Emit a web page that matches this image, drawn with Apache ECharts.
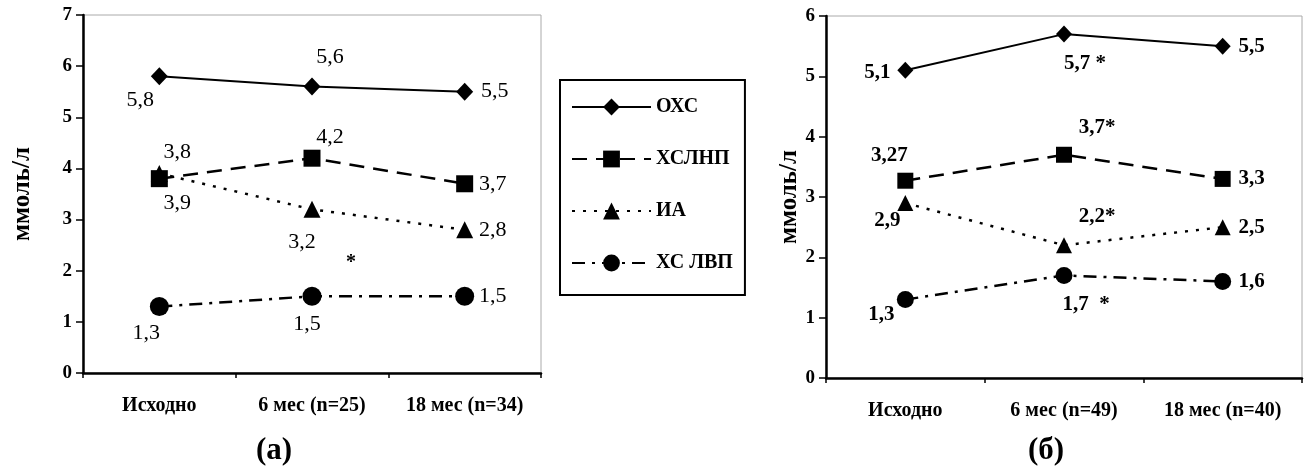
<!DOCTYPE html>
<html>
<head>
<meta charset="utf-8">
<script src="https://cdn.jsdelivr.net/npm/echarts@6/dist/echarts.min.js"></script>
<style>
  html, body { margin: 0; padding: 0; background: #fff; }
  #chart { width: 1308px; height: 471px; }
</style>
</head>
<body>
<div id="chart"></div>
<script>
// Lipid levels (mmol/l) at baseline and follow-up, two patient groups
const categoriesA = ['Исходно', '6 мес (n=25)', '18 мес (n=34)'];
const categoriesB = ['Исходно', '6 мес (n=49)', '18 мес (n=40)'];
const seriesNames = ['ОХС', 'ХСЛНП', 'ИА', 'ХС ЛВП'];

// Panel (а)
const ohsA = [5.8, 5.6, 5.5];
const ldlA = [3.8, 4.2, 3.7];
const iaA = [3.9, 3.2, 2.8];
const hdlA = [1.3, 1.5, 1.5];

// Panel (б)
const ohsB = [5.1, 5.7, 5.5];
const ldlB = [3.27, 3.7, 3.3];
const iaB = [2.9, 2.2, 2.5];
const hdlB = [1.3, 1.7, 1.6];

// Significance marks appended to value labels in panel (б)
const starsB = [['', ' *', ''], ['', '*', ''], ['', '*', ''], ['', '  *', '']];

const yMaxA = 7;
const yMaxB = 6;
const panelTitles = ['(а)', '(б)'];

// Label placement around each point, in pixels from the marker centre
const offsetsA = [
  [[-19, 24], [18, -29], [30, 0]],
  [[18, -26], [18, -21], [28, 0]],
  [[18, 30], [-10, 33], [28, 0]],
  [[-13, 27], [-5, 28], [28, 0]]
];
const offsetsB = [
  [[-28, 2], [21, 29], [29, 0]],
  [[-16, -25], [33, -27], [29, 0]],
  [[-18, 18], [33, -29], [29, 0]],
  [[-24, 15], [22, 29], [29, 0]]
];

const serif = '"Liberation Serif", "DejaVu Serif", serif';

const lineStyles = [
  { type: 'solid', width: 2 },
  { type: [15, 9], width: 2.5 },
  { type: [3, 8], width: 2.5 },
  { type: [13, 7, 3, 7], width: 2.5 }
];
const symbols = ['diamond', 'rect', 'triangle', 'circle'];
const symbolSizesA = [[17, 18], 17, 17, 19];
const symbolSizesB = [[16, 17], 16, 16, 17];

const fmt = v => String(v).replace('.', ',');

function makeSeries(values, idx, panel) {
  const offs = panel === 0 ? offsetsA[idx] : offsetsB[idx];
  const stars = panel === 0 ? null : starsB[idx];
  return {
    name: seriesNames[idx],
    type: 'line',
    xAxisIndex: panel,
    yAxisIndex: panel,
    symbol: symbols[idx],
    symbolSize: panel === 0 ? symbolSizesA[idx] : symbolSizesB[idx],
    showAllSymbol: true,
    itemStyle: { color: '#000' },
    lineStyle: Object.assign({ color: '#000' }, lineStyles[idx]),
    z: 10 - idx,
    data: values.map((v, i) => ({
      value: v,
      label: {
        offset: offs[i],
        formatter: () => fmt(v) + (stars ? stars[i] : '')
      }
    })),
    label: {
      show: true,
      position: 'inside',
      align: 'center',
      verticalAlign: 'middle',
      color: '#000',
      fontFamily: serif,
      fontSize: panel === 0 ? 22 : 21,
      fontWeight: panel === 0 ? 'normal' : 'bold'
    },
    emphasis: { disabled: true },
    animation: false
  };
}

function xAxis(gridIndex, cats) {
  return {
    type: 'category',
    gridIndex,
    data: cats,
    boundaryGap: true,
    axisLine: { lineStyle: { color: '#000', width: 2.5 } },
    axisTick: { show: true, length: 5, interval: 0, lineStyle: { color: '#000', width: 1.5 } },
    axisLabel: {
      interval: 0, hideOverlap: false,
      color: '#000', fontFamily: serif, fontWeight: 'bold', fontSize: 20, margin: 23
    },
    splitLine: { show: false }
  };
}

function yAxis(gridIndex, max, nameGap) {
  return {
    type: 'value',
    gridIndex,
    min: 0,
    max,
    interval: 1,
    name: 'ммоль/л',
    nameLocation: 'middle',
    nameGap,
    nameRotate: 90,
    nameTextStyle: { color: '#000', fontFamily: serif, fontWeight: 'bold', fontSize: 25 },
    axisLine: { show: true, lineStyle: { color: '#000', width: 2.5 } },
    axisTick: { show: true, length: 7, lineStyle: { color: '#000', width: 1.5 } },
    axisLabel: {
      color: '#000', fontFamily: serif, fontWeight: 'bold', fontSize: 19, margin: 11
    },
    splitLine: { show: false }
  };
}

const chart = echarts.init(document.getElementById('chart'), null, { renderer: 'canvas' });

const series = [
  makeSeries(ohsA, 0, 0), makeSeries(ldlA, 1, 0), makeSeries(iaA, 2, 0), makeSeries(hdlA, 3, 0),
  makeSeries(ohsB, 0, 1), makeSeries(ldlB, 1, 1), makeSeries(iaB, 2, 1), makeSeries(hdlB, 3, 1)
];

chart.setOption({
  backgroundColor: '#fff',
  animation: false,
  grid: [
    { left: 83, top: 15, width: 458, height: 358, show: true, borderColor: '#aaa', borderWidth: 1, backgroundColor: 'transparent' },
    { left: 826, top: 16, width: 476, height: 362, show: true, borderColor: '#aaa', borderWidth: 1, backgroundColor: 'transparent' }
  ],
  xAxis: [xAxis(0, categoriesA), xAxis(1, categoriesB)],
  yAxis: [yAxis(0, yMaxA, 48), yAxis(1, yMaxB, 23)],
  legend: {
    orient: 'vertical',
    left: 560,
    top: 80,
    data: seriesNames,
    itemWidth: 79,
    itemHeight: 21,
    itemGap: 32,
    padding: [17, 12, 22, 11],
    borderColor: '#000',
    borderWidth: 2,
    selectedMode: false,
    textStyle: { color: '#000', fontFamily: serif, fontWeight: 'bold', fontSize: 20 }
  },
  title: [
    { text: panelTitles[0], left: 269, top: 430, textAlign: 'center',
      textStyle: { color: '#000', fontFamily: serif, fontWeight: 'bold', fontSize: 31 } },
    { text: panelTitles[1], left: 1041, top: 430, textAlign: 'center',
      textStyle: { color: '#000', fontFamily: serif, fontWeight: 'bold', fontSize: 31 } }
  ],
  graphic: [
    // significance mark between the 6- and 18-month points of panel (а)
    { type: 'text', left: 346, top: 253,
      style: { text: '*', fill: '#000', font: 'bold 20px ' + serif } }
  ],
  series
});
</script>
</body>
</html>
